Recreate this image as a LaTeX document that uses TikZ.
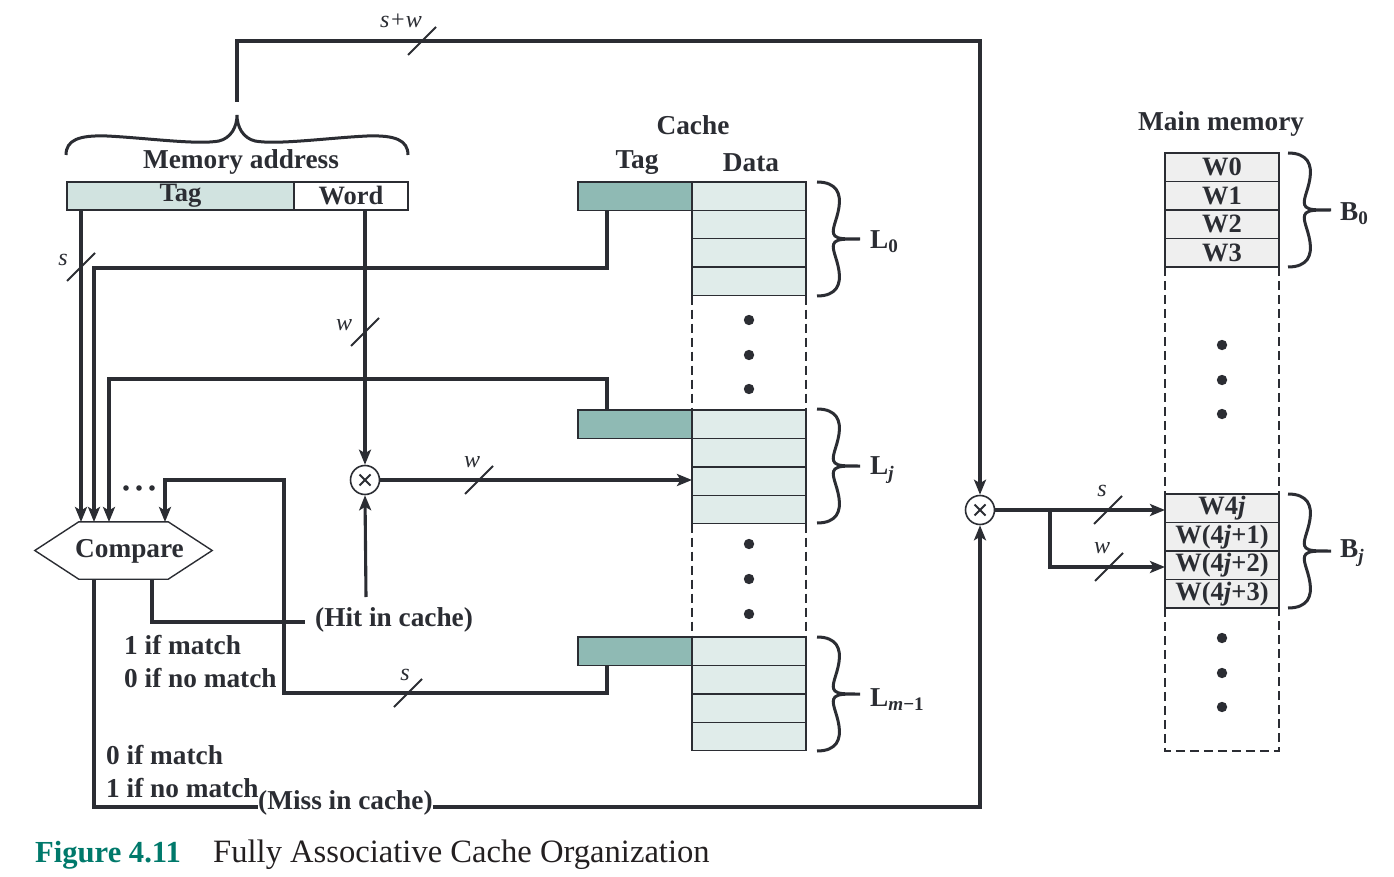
\documentclass[tikz,border=0pt]{standalone}
\usepackage{fontspec}
\setmainfont{Liberation Serif}
\usetikzlibrary{arrows.meta,calc}
\definecolor{ink}{HTML}{2B2D33}
\definecolor{tagdark}{HTML}{8FBAB4}
\definecolor{datalight}{HTML}{E0ECEA}
\definecolor{addrtag}{HTML}{D1E3E0}
\definecolor{memgray}{HTML}{EFEFEF}
\definecolor{capteal}{HTML}{00796B}
\definecolor{capink}{HTML}{231F20}
\tikzset{
  conn/.style={draw=ink,line width=3.1pt},
  arr/.style={conn,-{Stealth[length=15pt,width=12pt,inset=3.5pt]}},
  thinline/.style={draw=ink,line width=1.4pt},
  dashline/.style={draw=ink,line width=1.4pt,dash pattern=on 9pt off 5pt},
  lbl/.style={text=ink,inner sep=0pt,font=\fontsize{27.3}{29}\selectfont\bfseries},
  ilbl/.style={text=ink,inner sep=0pt,font=\fontsize{24}{26}\selectfont\itshape},
  rowbox/.style={thinline,minimum width=114pt,minimum height=28.4pt,inner sep=0pt,outer sep=0pt,anchor=north west,text=ink,font=\fontsize{26.5}{27}\selectfont\bfseries},
  mulnode/.style={draw=ink,line width=1.6pt,circle,minimum size=29pt,inner sep=0pt,fill=white},
  bracel/.style={draw=ink,line width=3pt},
  busslash/.pic={\draw[draw=ink,line width=2pt] (-14,14) -- (14,-14);},
  vbrace/.pic={\draw[bracel] (0,-57) .. controls (20,-57) and (24,-45) .. (22,-32)
      .. controls (20,-18) and (13,-8) .. (18,-3) .. controls (21,0) and (28,0) .. (43,0)
      .. controls (28,0) and (21,0) .. (18,3) .. controls (13,8) and (20,18) .. (22,32)
      .. controls (24,45) and (20,57) .. (0,57);},
  hbrace/.pic={\draw[bracel] (-171,40) .. controls (-171,25) and (-158,20) .. (-130,21)
      .. controls (-90,23) and (-40,30) .. (-18,26) .. controls (-6,23) and (0,12) .. (0,0)
      .. controls (0,12) and (6,23) .. (18,26) .. controls (40,30) and (90,23) .. (130,21)
      .. controls (158,20) and (171,25) .. (171,40);}
}
\begin{document}
\begin{tikzpicture}[x=1pt,y=-1pt]
\useasboundingbox (0,0) rectangle (1394,877);

% ---------- memory address ----------
\pic at (237,115) {hbrace};
\node[lbl] (maddr) at (241,162) {Memory address};
\node[rowbox,fill=addrtag,minimum width=227pt,minimum height=28pt] (mtag) at (67,182) {Tag};
\node[rowbox,fill=white,minimum width=114pt,minimum height=28pt] (mword) at (294,182) {Word};

% ---------- cache ----------
\node[lbl] (cachelbl) at (693,125) {Cache};
\node[lbl] (ctaglbl) at (637,163) {Tag};
\node[lbl] (cdatalbl) at (751,163) {Data};
\foreach \t/\n in {182/a,410/b,637/c}{
  \node[rowbox,fill=tagdark] (tag\n) at (578,\t) {};
  \foreach \r in {0,1,2,3}{
    \node[rowbox,fill=datalight] (d\n\r) at (692,\t+\r*28.4) {};
  }
}
\draw[dashline] (da3.south west) -- (db0.north west);
\draw[dashline] (da3.south east) -- (db0.north east);
\draw[dashline] (db3.south west) -- (dc0.north west);
\draw[dashline] (db3.south east) -- (dc0.north east);
\foreach \y in {320,355,389,544,579,614}{\fill[ink] (749,\y) circle (5.2pt);}
\pic at (817,239) {vbrace};
\pic at (817,466) {vbrace};
\pic at (817,694) {vbrace};
\node[lbl,anchor=west] (L0) at (870,242) {L\textsubscript{0}};
\node[lbl,anchor=west] (Lj) at (870,470) {L\textsubscript{\textit{j}}};
\node[lbl,anchor=west] (Lm) at (870,700) {L\textsubscript{\textit{m}−1}};

% ---------- main memory ----------
\node[lbl] (mainlbl) at (1221,124) {Main memory};
\foreach \r/\w in {0/W0,1/W1,2/W2,3/W3}{
  \node[rowbox,fill=memgray] (ba\r) at (1165,153+\r*28.5) {\w};
}
\foreach \r/\w in {0/W4\textit{j},1/W(4\textit{j}+1),2/W(4\textit{j}+2),3/W(4\textit{j}+3)}{
  \node[rowbox,fill=memgray] (bj\r) at (1165,494+\r*28.5) {\w};
}
\coordinate (membot) at (1165,751);
\draw[dashline] (ba3.south west) -- (bj0.north west);
\draw[dashline] (ba3.south east) -- (bj0.north east);
\draw[dashline] (bj3.south west) -- (membot) -- (membot -| bj3.east) -- (bj3.south east);
\foreach \y in {345,380,414,638,673,707}{\fill[ink] (1222,\y) circle (5.2pt);}
\pic at (1288,210) {vbrace};
\pic at (1288,551) {vbrace};
\node[lbl,anchor=west] (B0) at (1340,214) {B\textsubscript{0}};
\node[lbl,anchor=west] (Bj) at (1340,553) {B\textsubscript{\textit{j}}};

% ---------- compare ----------
\node[minimum width=177pt,minimum height=57pt,inner sep=0pt] (cmp) at (123.5,550.5) {};
\draw[thinline] (cmp.west) -- ($(cmp.north west)+(44,0)$) -- ($(cmp.north east)+(-44,0)$) -- (cmp.east)
  -- ($(cmp.south east)+(-44,0)$) -- ($(cmp.south west)+(44,0)$) -- cycle;
\node[lbl] (cmptxt) at (129.5,551) {Compare};
\foreach \x in {126,139,152}{\fill[ink] (\x,488) circle (2.8pt);}

% ---------- multipliers ----------
\node[mulnode] (mul1) at (365,480) {};
\node[mulnode] (mul2) at (980,510) {};
\foreach \m in {mul1,mul2}{
  \draw[draw=ink,line width=1.9pt] ($(\m)+(-5.5,-5.5)$) -- ($(\m)+(5.5,5.5)$);
  \draw[draw=ink,line width=1.9pt] ($(\m)+(-5.5,5.5)$) -- ($(\m)+(5.5,-5.5)$);
}

% ---------- texts ----------
\node[lbl,anchor=west] (hit) at (315,620) {(Hit in cache)};
\node[lbl,anchor=west] (t1) at (124,645) {1 if match};
\node[lbl,anchor=west] (t2) at (124,678) {0 if no match};
\node[lbl,anchor=west] (t3) at (106,755) {0 if match};
\node[lbl,anchor=west] (t4) at (106,788) {1 if no match};
\node[lbl,anchor=west] (miss) at (258,803) {(Miss in cache)};

% ---------- coordinates ----------
\coordinate (in1) at (81,522);
\coordinate (in2) at (94,522);
\coordinate (in3) at (109,522);
\coordinate (in4) at (165,522);
\coordinate (c0) at (607,268);
\coordinate (cj) at (607,379);
\coordinate (cm) at (607,693);
\coordinate (vm) at (284,480);
\coordinate (h0) at (152,622);
\coordinate (h1) at (305,622);
\coordinate (hu) at (366,597);
\coordinate (mc1) at (94,807);
\coordinate (mc2) at (980,807);
\coordinate (brt) at (237,102);
\coordinate (swc) at (237,41);
\coordinate (br1) at (1050,510);
\coordinate (br2) at (1050,567);

% ---------- connectors ----------
\draw[arr] (in1 |- mtag.south) -- (in1);
\draw[arr] (taga.south -| c0) -- (c0) -- (c0 -| in2) -- (in2);
\draw[arr] (tagb.north -| cj) -- (cj) -- (cj -| in3) -- (in3);
\draw[arr] (tagc.south -| cm) -- (cm) -- (cm -| vm) -- (vm) -- (vm -| in4) -- (in4);
\draw[arr] (mword.south -| mul1) -- (mul1.north);
\draw[conn] (cmp.south -| h0) -- (h0) -- (h1);
\draw[arr] (hu) -- (mul1.south);
\draw[arr] (mul1.east) -- (mul1.east -| db2.west);
\draw[conn] (cmp.south -| mc1) -- (mc1) -- (mc1 -| miss.west);
\draw[arr] (mc1 -| miss.east) -- (mc2) -- (mul2.south);
\draw[arr] (brt) -- (swc) -- (swc -| mul2) -- (mul2.north);
\draw[arr] (mul2.east) -- (mul2.east -| bj0.west);
\draw[arr] (br1) -- (br2) -- (br2 -| bj2.west);

% ---------- bus slashes ----------
\pic at (422,41) {busslash};
\pic at (81,267) {busslash};
\pic at (365,332) {busslash};
\pic at (479,480) {busslash};
\pic at (408,693) {busslash};
\pic at (1108,510) {busslash};
\pic at (1109,567) {busslash};
\node[ilbl] (lsw) at (401,21) {s+w};
\node[ilbl] (ls1) at (63,260) {s};
\node[ilbl] (lw1) at (344,325) {w};
\node[ilbl] (lw2) at (472,462) {w};
\node[ilbl] (ls2) at (405,675) {s};
\node[ilbl] (ls3) at (1102,491) {s};
\node[ilbl] (lw3) at (1102,548) {w};

% ---------- caption ----------
\node[anchor=west,inner sep=0pt,text=capteal,font=\fontsize{30.6}{32}\selectfont\bfseries] (fig) at (35,855) {Figure 4.11};
\node[anchor=west,inner sep=0pt,text=capink,font=\fontsize{32.6}{34}\selectfont] (cap) at (213,855) {Fully Associative Cache Organization};
\end{tikzpicture}
\end{document}
